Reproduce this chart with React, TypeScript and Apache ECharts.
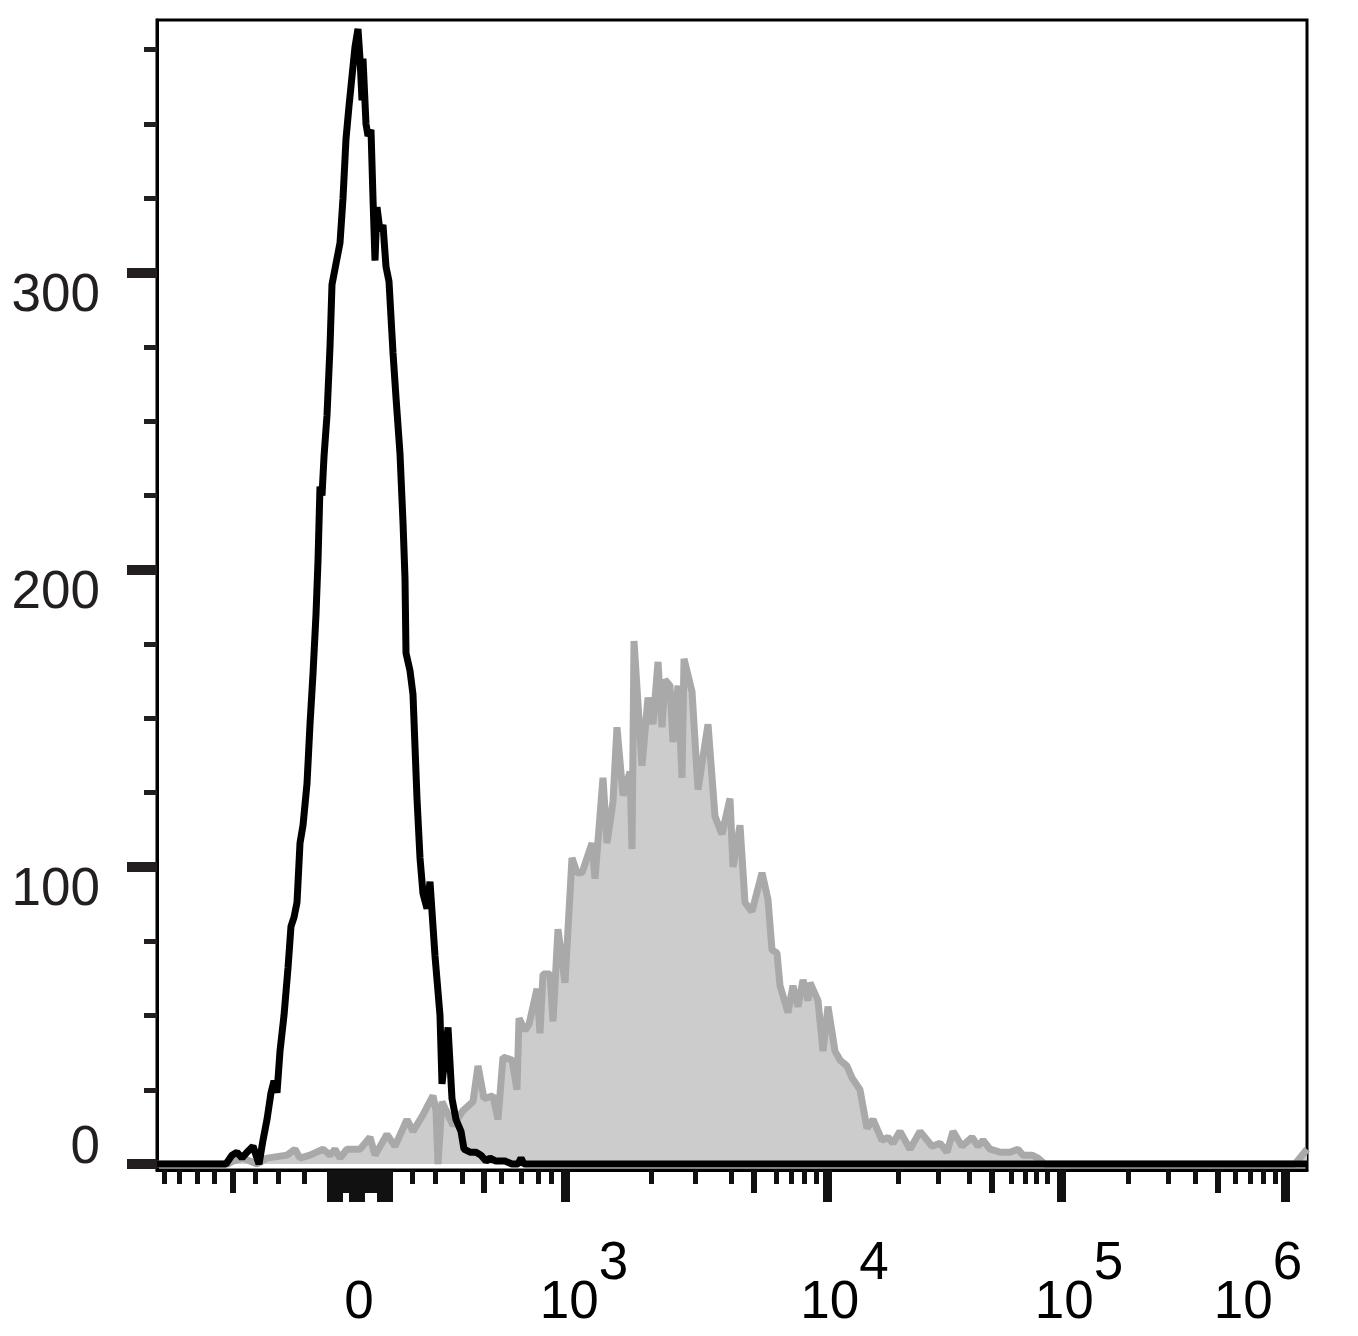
import { useEffect, useRef } from "react";
import * as echarts from "echarts";

// x values are display channels of the biexponential scale (0 .. 1150)
const blackCh = [0, 69, 75, 80, 85, 90, 96, 102, 106, 110, 114, 117, 120, 123, 127, 131, 134, 137, 140, 143, 146, 150, 153, 156, 159, 161, 163, 165, 167, 170, 173, 175, 179, 183, 186, 189, 192, 195, 198, 201, 203, 205, 206, 209, 211, 214, 216, 218, 220, 223, 226, 229, 232, 234, 236, 239, 243, 246, 248, 249, 253, 256, 260, 263, 266, 270, 273, 278, 283, 285, 288, 291, 295, 299, 304, 307, 313, 319, 324, 329, 333, 339, 348, 355, 361, 364, 367, 1150];
const blackCount = [0, 0, 3, 4, 2, 4, 6, 0, 8, 15, 24, 28, 24, 38, 50, 66, 80, 83, 88, 108, 114, 128, 148, 165, 185, 203, 228, 225, 238, 252, 275, 296, 303, 310, 325, 345, 356, 366, 376, 382, 372, 358, 372, 350, 346, 348, 325, 304, 322, 314, 316, 302, 297, 285, 273, 258, 239, 216, 197, 172, 166, 158, 123, 103, 91, 86, 95, 70, 50, 27, 36, 46, 22, 15, 11, 5, 4, 4, 3, 1, 2, 1, 1, 0, 0, 2, 0, 0];

const grayCh = [0, 71, 76, 86, 100, 110, 130, 138, 143, 153, 166, 173, 178, 183, 190, 203, 213, 218, 230, 238, 250, 256, 265, 276, 279, 281, 285, 296, 306, 316, 321, 327, 336, 341, 346, 355, 360, 362, 368, 372, 380, 383, 386, 393, 396, 401, 408, 415, 420, 425, 435, 438, 446, 450, 456, 460, 466, 473, 475, 477, 485, 491, 496, 501, 505, 508, 513, 516, 521, 525, 527, 535, 541, 551, 558, 565, 573, 576, 583, 588, 595, 605, 611, 615, 620, 623, 631, 636, 641, 646, 651, 653, 661, 666, 671, 678, 683, 690, 695, 703, 710, 716, 725, 731, 736, 743, 753, 763, 775, 783, 790, 796, 805, 815, 821, 826, 833, 843, 853, 861, 866, 875, 881, 888, 1138, 1150];
const grayCount = [0, 0, 1, 2, 0, 2, 3, 5, 2, 3, 5, 3, 5, 2, 5, 5, 9, 3, 10, 6, 15, 11, 16, 23, 18, 0, 21, 13, 18, 21, 33, 22, 23, 15, 36, 35, 25, 49, 45, 47, 59, 44, 64, 64, 48, 79, 61, 103, 98, 98, 108, 96, 130, 108, 122, 147, 124, 132, 106, 176, 134, 157, 148, 169, 147, 163, 161, 142, 161, 130, 170, 159, 126, 148, 117, 111, 123, 100, 114, 88, 85, 98, 89, 72, 71, 60, 51, 60, 53, 62, 55, 61, 55, 38, 53, 38, 35, 33, 29, 25, 12, 15, 8, 9, 7, 11, 5, 11, 6, 7, 4, 11, 6, 9, 6, 8, 5, 4, 4, 5, 3, 3, 2, 0, 0, 5];

// axis ticks
const yMajorTicks = [0, 100, 200, 300];
const yMinorTicks = [25, 50, 75, 125, 150, 175, 225, 250, 275, 325, 350, 375];
const yLabels = [100, 200, 300];

const xMajorTicks = [408, 670.5, 904, 1128];
const xMidTicks = [76, 187, 190, 209, 212, 215, 218, 327, 596.5, 835, 1061];
const xMinorTicks = [7, 22, 40, 57.5, 98, 121, 147.5, 255, 278, 305, 344.5, 364, 381, 394.5, 494, 538, 574, 619, 634, 647.5, 659, 741, 781.5, 812, 854, 868, 879, 890.5, 971, 1011, 1038, 1078, 1093, 1106, 1118];
const xZeroTicks = [172, 175, 178, 181, 184, 194, 197, 200, 203, 206, 222, 225, 228, 231, 234];
const xLabelAt = [202, 427, 687.5, 922, 1101];
const xLabelExp = ["", "3", "4", "5", "6"];

const FONT = "'Liberation Sans', Arial, sans-serif";
const X_MIN = 0;
const X_MAX = 1150;
const Y_MIN = -2;
const Y_MAX = 385;

function xTickAxis(values: number[], length: number, width: number, extra: any = {}) {
  return {
    type: "value",
    position: "bottom",
    min: X_MIN,
    max: X_MAX,
    splitLine: { show: false },
    axisLine: { show: false, onZero: false },
    axisLabel: { show: false },
    axisTick: { show: true, customValues: values, length, lineStyle: { color: "#111", width } },
    ...extra,
  };
}

function yTickAxis(values: number[], length: number, width: number, extra: any = {}) {
  return {
    type: "value",
    position: "left",
    min: Y_MIN,
    max: Y_MAX,
    splitLine: { show: false },
    axisLine: { show: false, onZero: false },
    axisLabel: { show: false },
    axisTick: { show: values.length > 0, customValues: values, length, lineStyle: { color: "#231f20", width } },
    ...extra,
  };
}

export default function App(): JSX.Element {
  const chartRef = useRef<HTMLDivElement>(null);

  useEffect(() => {
    const chart = echarts.init(chartRef.current, null, { renderer: "svg" });
    const digit = { fontSize: 53, lineHeight: 52, fontFamily: FONT, color: "#000", verticalAlign: "bottom" };

    const option = {
      animation: false,
      backgroundColor: "#fff",
      grid: {
        left: 157,
        top: 20,
        width: 1150,
        height: 1150,
        show: true,
        borderColor: "#000",
        borderWidth: 3,
        backgroundColor: "transparent",
        outerBoundsMode: "none",
        containLabel: false,
      },
      xAxis: [
        xTickAxis(xMajorTicks, 32, 9, {
          axisLine: { show: true, onZero: false, lineStyle: { color: "#000", width: 3 } },
          axisLabel: {
            show: true,
            customValues: xLabelAt,
            margin: 104,
            formatter: (v: number) => {
              const i = xLabelAt.indexOf(v);
              if (i < 0) return "";
              return i === 0 ? "{zero|0}" : "{base|10}{sup|" + xLabelExp[i] + "}";
            },
            rich: {
              base: digit,
              sup: { ...digit, padding: [0, 0, 39, 0] },
              zero: { ...digit, padding: [39, 0, 0, 0] },
            },
          },
        }),
        xTickAxis(xMidTicks, 23, 6),
        xTickAxis(xMinorTicks, 14, 5),
        xTickAxis(xZeroTicks, 32, 4),
      ],
      yAxis: [
        yTickAxis(yMajorTicks, 30, 10, {
          axisLine: { show: true, onZero: false, lineStyle: { color: "#000", width: 3 } },
          axisLabel: {
            show: true,
            customValues: yLabels,
            margin: 57,
            verticalAlign: "top",
            fontSize: 53,
            lineHeight: 40,
            fontFamily: FONT,
            color: "#231f20",
          },
        }),
        yTickAxis(yMinorTicks, 13, 5),
        yTickAxis([], 0, 0, {
          axisLabel: {
            show: true,
            customValues: [0],
            margin: 57,
            verticalAlign: "bottom",
            fontSize: 53,
            lineHeight: 40,
            fontFamily: FONT,
            color: "#231f20",
          },
        }),
      ],
      series: [
        {
          name: "stained",
          type: "line",
          xAxisIndex: 0,
          yAxisIndex: 0,
          symbol: "none",
          data: grayCh.map((c, i) => [c, grayCount[i]]),
          lineStyle: { color: "#a9a9a9", width: 7 },
          areaStyle: { color: "#cccccc", opacity: 1 },
          z: 2,
        },
        {
          name: "control",
          type: "line",
          xAxisIndex: 0,
          yAxisIndex: 0,
          symbol: "none",
          data: blackCh.map((c, i) => [c, blackCount[i]]),
          lineStyle: { color: "#000", width: 7 },
          z: 3,
        },
      ],
    };

    chart.setOption(option);
    return () => {
      chart.dispose();
    };
  }, []);

  return (
    <div
      ref={chartRef}
      style={{ position: "absolute", left: 0, top: 0, width: 1358, height: 1336 }}
    ></div>
  );
}
